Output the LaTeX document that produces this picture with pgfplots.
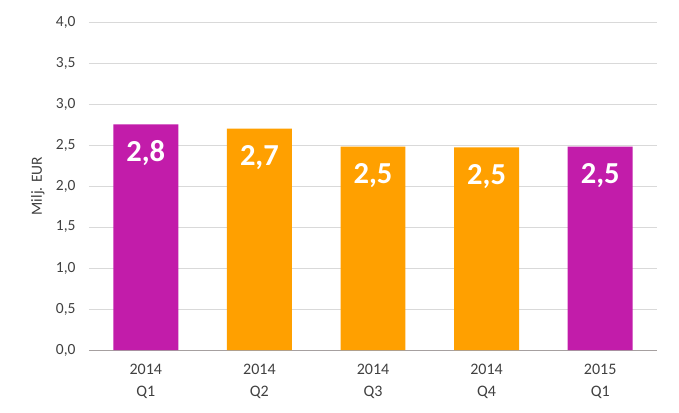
\documentclass[border=0pt]{standalone}
\usepackage{pgfplots}
\pgfplotsset{compat=1.18}
\usepackage{fontspec}
\setmainfont{Carlito}
\definecolor{mag}{HTML}{C21CAA}
\definecolor{org}{HTML}{FFA000}
\definecolor{gridc}{HTML}{D9D9D9}
\definecolor{axc}{HTML}{A6A0A0}
\definecolor{txt}{HTML}{404040}
\begin{document}
\begin{tikzpicture}
\useasboundingbox (-89bp,-63bp) rectangle (590bp,350bp);
\begin{axis}[
  at={(0,0)}, anchor=south west,
  scale only axis, width=568bp, height=328bp,
  ybar, bar width=0.572, bar shift=0pt,
  xmin=-0.5, xmax=4.5, ymin=0, ymax=4,
  xtick={0,1,2,3,4},
  xticklabels={{2014\\Q1},{2014\\Q2},{2014\\Q3},{2014\\Q4},{2015\\Q1}},
  xticklabel style={align=center, font=\fontsize{16bp}{22bp}\selectfont, text=txt, yshift=-11bp},
  ytick={0,0.5,...,4},
  yticklabel style={font=\fontsize{15.5bp}{17bp}\selectfont, text=txt, xshift=-10bp},
  /pgf/number format/.cd, use comma, fixed, fixed zerofill, precision=1, assume math mode=true,
  /pgfplots/.cd,
  ymajorgrids, grid style={gridc, line width=0.8pt},
  major tick length=0pt,
  axis x line*=bottom, axis y line*=left,
  x axis line style={axc, line width=0.8pt, -},
  y axis line style={draw=none},
  ylabel={Milj. EUR},
  every axis y label/.style={at={(axis description cs:-0.09,0.5)}, rotate=90, anchor=center, font=\fontsize{15.5bp}{17bp}\selectfont, text=txt},
  nodes near coords,
  point meta=explicit symbolic,
  every node near coord/.append style={anchor=center, yshift=-29bp, text=white, font=\fontsize{30.5bp}{32bp}\selectfont\bfseries},
  clip=false,
]
\addplot[fill=mag, draw=none] coordinates {(0,2.75) [2,8] (4,2.48) [2,5]};
\addplot[fill=org, draw=none] coordinates {(1,2.70) [2,7] (2,2.48) [2,5] (3,2.47) [2,5]};
\end{axis}
\end{tikzpicture}
\end{document}
